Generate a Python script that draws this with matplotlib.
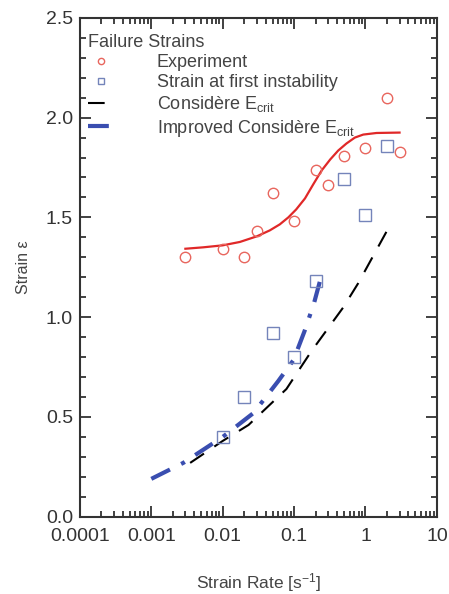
import matplotlib
matplotlib.use("Agg")
import matplotlib.pyplot as plt
from matplotlib.ticker import LogLocator, MultipleLocator, FixedFormatter, FixedLocator

plt.rcParams['font.family'] = ['Liberation Sans', 'DejaVu Sans']
plt.rcParams['mathtext.fontset'] = 'custom'
plt.rcParams['mathtext.rm'] = 'Liberation Sans'
plt.rcParams['mathtext.it'] = 'Liberation Sans:italic'

# experiment (failure strain)
exp_rate = [0.003, 0.01, 0.02, 0.03, 0.05, 0.1, 0.2, 0.3, 0.5, 1.0, 2.0, 3.0]
exp_strain = [1.30, 1.34, 1.30, 1.43, 1.62, 1.48, 1.74, 1.66, 1.81, 1.85, 2.10, 1.83]

# strain at first instability
inst_rate = [0.01, 0.02, 0.05, 0.1, 0.2, 0.5, 1.0, 2.0]
inst_strain = [0.40, 0.60, 0.92, 0.80, 1.18, 1.69, 1.51, 1.86]

# fit through experiment
fit_rate = [0.003, 0.0053, 0.01, 0.0174, 0.03, 0.0457, 0.063, 0.083, 0.107,
            0.142, 0.185, 0.243, 0.32, 0.415, 0.54, 0.71, 0.93, 1.43, 3.0]
fit_strain = [1.343, 1.350, 1.360, 1.377, 1.405, 1.435, 1.465, 1.500, 1.540,
              1.595, 1.665, 1.735, 1.790, 1.835, 1.870, 1.900, 1.915, 1.923, 1.925]

# Considere criterion
cons_rate = [0.0035, 0.01, 0.023, 0.078, 0.175, 0.49, 0.79, 2.2]
cons_strain = [0.27, 0.38, 0.46, 0.64, 0.83, 1.05, 1.17, 1.46]

# improved Considere criterion
imp_rate = [0.001, 0.0028, 0.01, 0.027, 0.06, 0.098, 0.14, 0.19, 0.23]
imp_strain = [0.19, 0.27, 0.40, 0.52, 0.68, 0.785, 0.93, 1.07, 1.18]

fig = plt.figure(figsize=(4.49, 5.94), dpi=100)
ax = fig.add_axes([0.178, 0.130, 0.795, 0.840])

ax.plot(fit_rate, fit_strain, color="#e02828", lw=1.6, zorder=3)
ax.plot(exp_rate, exp_strain, "o", mfc="none", mec="#e8665e", mew=1.0, ms=7.5,
        label="Experiment", zorder=4)
ax.plot(inst_rate, inst_strain, "s", mfc="none", mec="#7484ba", mew=1.0, ms=8,
        label="Strain at first instability", zorder=4)
ax.plot(cons_rate, cons_strain, color="black", lw=1.5, dashes=(8, 6),
        label="Considère E$_{\\rm crit}$", zorder=3)
ax.plot(imp_rate, imp_strain, color="#3a4eb0", lw=3.0, dashes=(5, 3, 1, 3),
        label="Improved Considère E$_{\\rm crit}$", zorder=3)

ax.set_xscale("log")
ax.set_xlim(0.0001, 10)
ax.set_ylim(0, 2.5)

ax.xaxis.set_major_locator(FixedLocator([0.0001, 0.001, 0.01, 0.1, 1, 10]))
ax.xaxis.set_major_formatter(FixedFormatter(["0.0001", "0.001", "0.01", "0.1", "1", "10"]))
ax.xaxis.set_minor_locator(LogLocator(base=10, subs=range(2, 10)))
ax.yaxis.set_major_locator(MultipleLocator(0.5))
ax.yaxis.set_minor_locator(MultipleLocator(0.1))
ax.yaxis.set_major_formatter(plt.FuncFormatter(lambda v, p: "%.1f" % v))

ax.tick_params(which="both", direction="in", top=True, right=True, labelsize=14,
               colors="#333333", width=1.3)
ax.tick_params(which="major", length=8)
ax.tick_params(which="minor", length=4)
ax.tick_params(axis="x", which="major", pad=8)
ax.tick_params(axis="y", which="major", pad=5)
for s in ax.spines.values():
    s.set_linewidth(1.5)
    s.set_color("#333333")

ax.set_xlabel("Strain Rate [s$^{-1}$]", fontsize=12.5, color="#444444", labelpad=19)
ax.set_ylabel("Strain ε", fontsize=11.5, color="#444444", labelpad=11)

leg = ax.legend(loc="upper left", bbox_to_anchor=(-0.008, 0.99),
                title="Failure Strains", frameon=False,
                fontsize=13, title_fontsize=13, handlelength=1.4,
                handletextpad=2.4, labelspacing=0.18, borderaxespad=0.0,
                borderpad=0.6, markerscale=0.6, alignment="left")
for t in leg.get_texts():
    t.set_color("#444444")
leg.get_title().set_color("#444444")

fig.savefig("out.png", dpi=100)
